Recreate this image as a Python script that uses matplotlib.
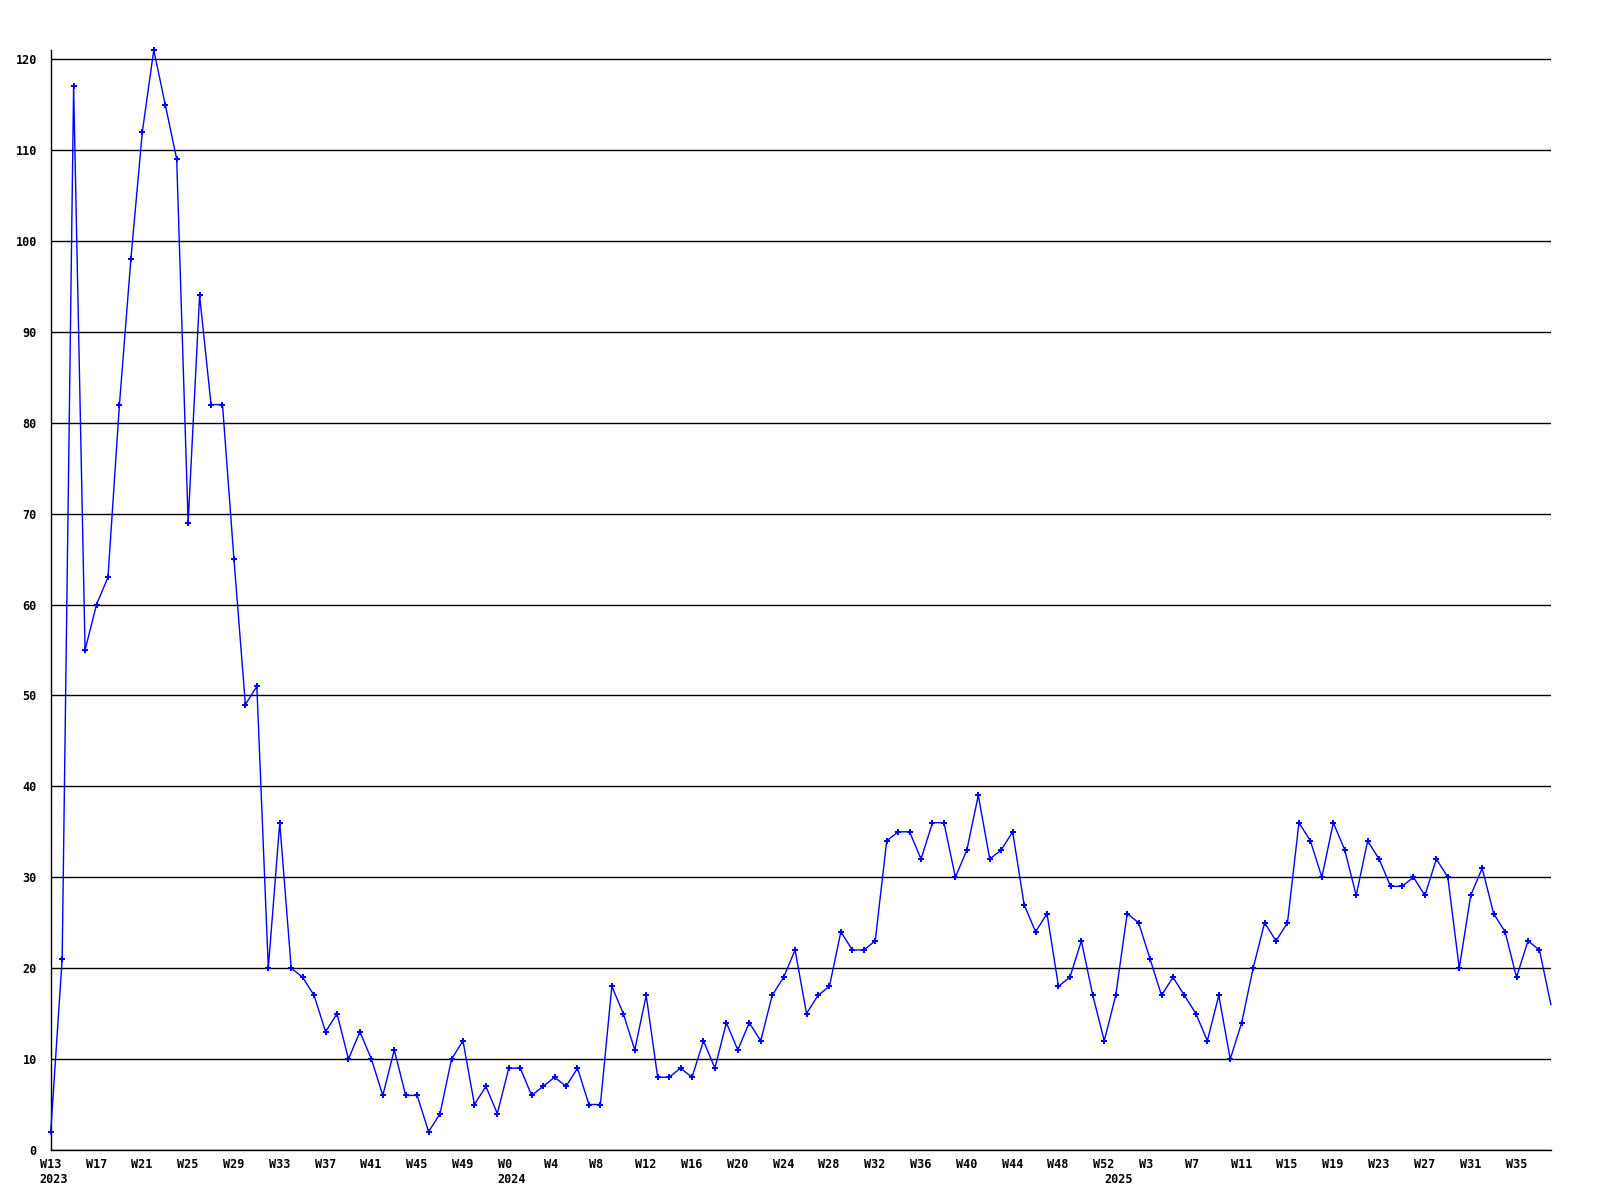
import matplotlib
matplotlib.use('Agg')
import matplotlib.pyplot as plt
from matplotlib.transforms import ScaledTranslation, blended_transform_factory

# weekly counts, W13 2023 .. W38 2025
values = [
    2, 21, 117, 55, 60, 63, 82, 98, 112, 121,
    115, 109, 69, 94, 82, 82, 65, 49, 51, 20,
    36, 20, 19, 17, 13, 15, 10, 13, 10, 6,
    11, 6, 6, 2, 4, 10, 12, 5, 7, 4,
    9, 9, 6, 7, 8, 7, 9, 5, 5, 18,
    15, 11, 17, 8, 8, 9, 8, 12, 9, 14,
    11, 14, 12, 17, 19, 22, 15, 17, 18, 24,
    22, 22, 23, 34, 35, 35, 32, 36, 36, 30,
    33, 39, 32, 33, 35, 27, 24, 26, 18, 19,
    23, 17, 12, 17, 26, 25, 21, 17, 19, 17,
    15, 12, 17, 10, 14, 20, 25, 23, 25, 36,
    34, 30, 36, 33, 28, 34, 32, 29, 29, 30,
    28, 32, 30, 20, 28, 31, 26, 24, 19, 23,
    22, 16,
]

week_labels = (
    ['W13', 'W17', 'W21', 'W25', 'W29', 'W33', 'W37', 'W41', 'W45', 'W49']
    + ['W%d' % w for w in range(0, 53, 4)]
    + ['W%d' % w for w in range(3, 36, 4)]
)
years = ['2023', '2024', '2025']
year_starts = [0, 40, 93]  # index of first week shown for each year
y_ticks = list(range(0, 121, 10))

font = {'family': 'DejaVu Sans Mono', 'weight': 'bold', 'size': 8.5}

fig = plt.figure(figsize=(16, 12), dpi=100)
ax = fig.add_axes([0.0317, 0.0417, 0.9376, 0.9166])

xs = list(range(len(values)))
ax.plot(xs, values, color='#0000ff', linewidth=1.0, marker='P',
        markersize=4.5, markeredgewidth=0, markevery=list(range(len(values) - 1)),
        zorder=3, clip_on=False)

ax.set_xlim(0, len(values) - 1)
ax.set_ylim(0, 121)

ax.set_yticks(y_ticks)
ax.set_yticklabels([str(v) for v in y_ticks], fontdict=font)

# week labels: left aligned, starting a little left of each week
x_ticks = list(range(0, 4 * len(week_labels), 4))
ax.set_xticks(x_ticks)
ax.set_xticklabels([])
base = blended_transform_factory(ax.transData, ax.transAxes)
week_trans = base + ScaledTranslation(-11 / 100, -8 / 100, fig.dpi_scale_trans)
year_trans = base + ScaledTranslation(-11 / 100, -23 / 100, fig.dpi_scale_trans)
for x, lbl in zip(x_ticks, week_labels):
    ax.text(x, 0, lbl, transform=week_trans, ha='left', va='top', **font)
for x, lbl in zip(year_starts, years):
    ax.text(x, 0, lbl, transform=year_trans, ha='left', va='top', **font)

ax.tick_params(axis='both', length=0, colors='black')
ax.tick_params(axis='y', pad=10)
ax.yaxis.grid(True, color='black', linewidth=1.0)
ax.set_axisbelow(True)

for side in ['top', 'right']:
    ax.spines[side].set_visible(False)
for side in ['left', 'bottom']:
    ax.spines[side].set_color('black')
    ax.spines[side].set_linewidth(1.0)

fig.savefig('out.png', dpi=100, facecolor='white')
